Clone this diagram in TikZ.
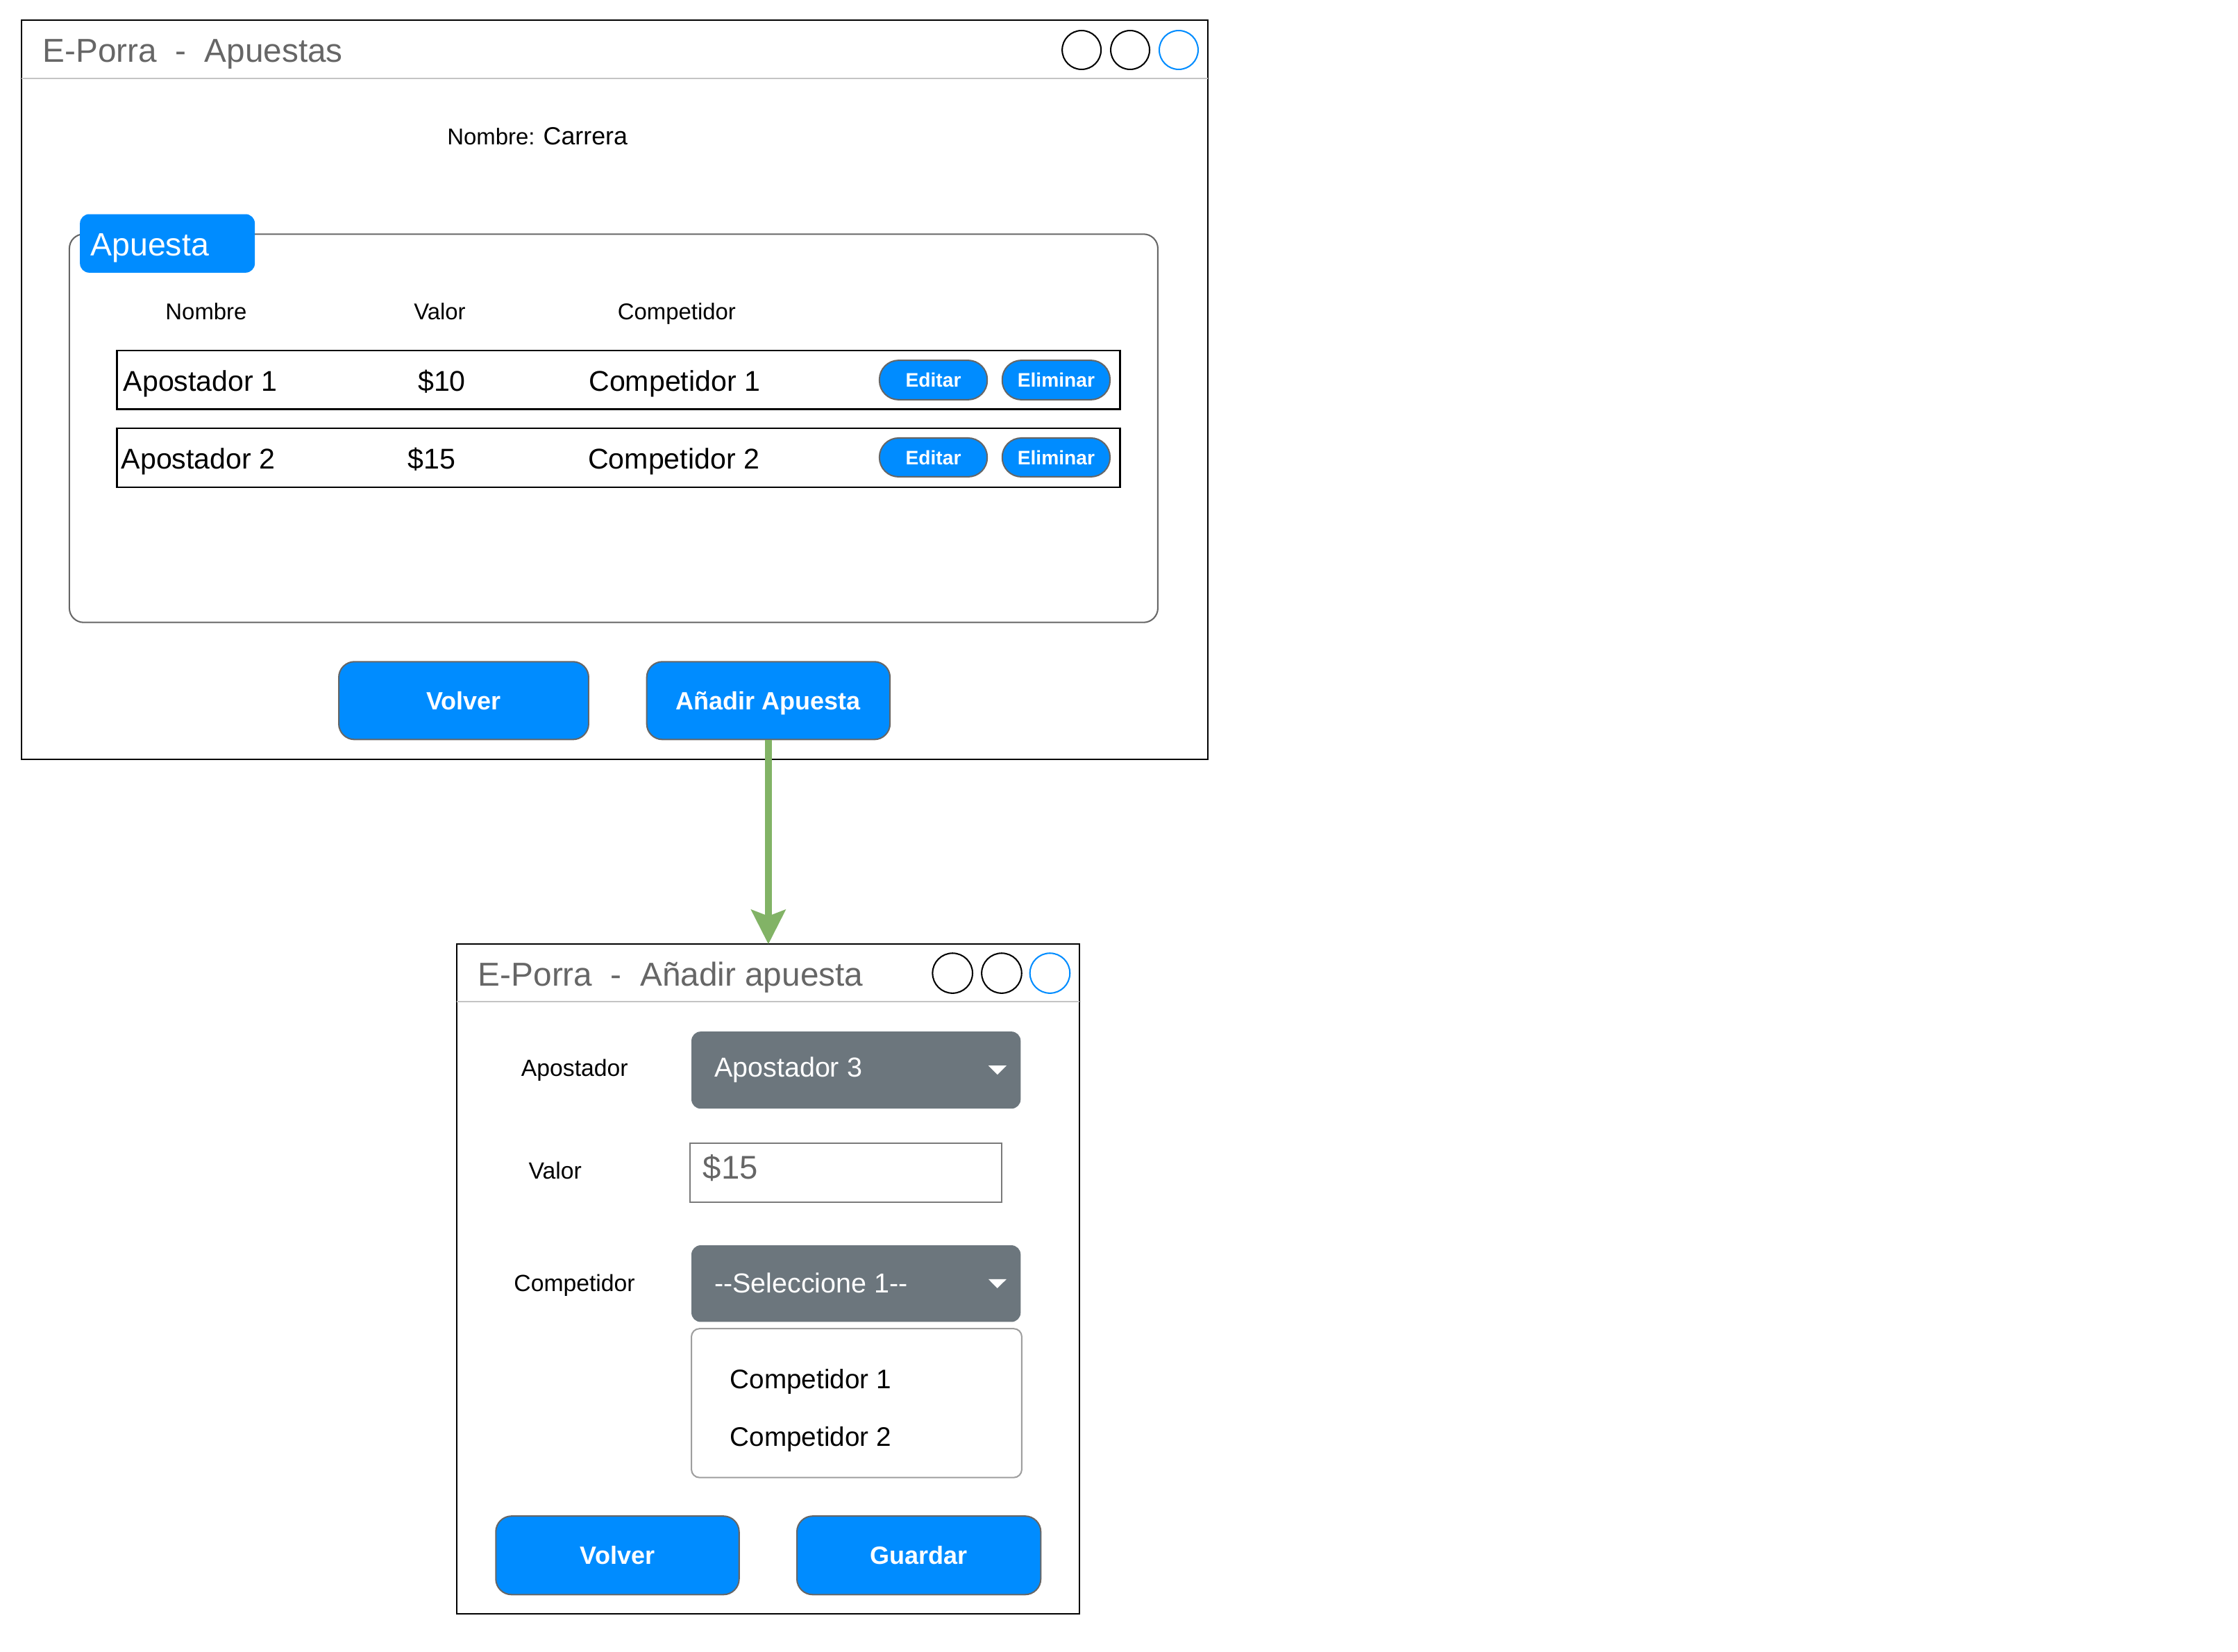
\documentclass[tikz,border=0pt]{standalone}
\usepackage{fontspec}
\setmainfont{Liberation Sans}
\usetikzlibrary{arrows.meta}
\definecolor{mblue}{HTML}{008CFF}
\definecolor{mgray}{HTML}{666666}
\definecolor{sepgray}{HTML}{C4C4C4}
\definecolor{ddgray}{HTML}{6C767D}
\definecolor{lgray}{HTML}{9E9E9E}
\definecolor{tbgray}{HTML}{7A7A7A}
\definecolor{agreen}{HTML}{82B366}
\begin{document}
\begin{tikzpicture}[x=0.5pt,y=-0.5pt,
  sz/.style 2 args={minimum width=#1*0.5pt, minimum height=#2*0.5pt},
  window/.style={draw=black, line width=0.6pt, inner sep=0pt, outer sep=0pt},
  sepline/.style={draw=sepgray, line width=0.5pt},
  wtitle/.style={anchor=base west, inner sep=0pt, text=mgray, font=\fontsize{11.6pt}{13pt}\selectfont},
  ctl/.style={draw=black, circle, line width=0.5pt, inner sep=0pt},
  ctlblue/.style={ctl, draw=mblue},
  lbl/.style={inner sep=0pt, font=\fontsize{8pt}{9.6pt}\selectfont},
  rowtxt/.style={inner sep=0pt, font=\fontsize{10pt}{12pt}\selectfont},
  groupbox/.style={draw=mgray, line width=0.5pt, rounded corners=5pt, inner sep=0pt},
  tabbox/.style={fill=mblue, rounded corners=3.25pt, inner sep=0pt},
  rowbox/.style={draw=black, line width=0.65pt, inner sep=0pt},
  sbtn/.style={draw=mgray, fill=mblue, line width=0.5pt, rounded corners=6.7pt, text=white, inner sep=0pt,
    font=\bfseries\fontsize{6.85pt}{8pt}\selectfont, text height=4.9pt, text depth=0pt},
  bbtn/.style={draw=mgray, fill=mblue, line width=0.5pt, rounded corners=5.5pt, text=white, inner sep=0pt,
    font=\bfseries\fontsize{8.75pt}{10pt}\selectfont, text height=6.3pt, text depth=0pt},
  ddbox/.style={fill=ddgray, rounded corners=3.25pt, inner sep=0pt},
  ddtxt/.style={anchor=base west, inner sep=0pt, text=white, font=\fontsize{9.6pt}{11pt}\selectfont},
  tbox/.style={draw=tbgray, line width=0.5pt, inner sep=0pt},
  listbox/.style={draw=lgray, line width=0.5pt, rounded corners=2.85pt, inner sep=0pt},
  listtxt/.style={anchor=base west, inner sep=0pt, font=\fontsize{9.4pt}{11pt}\selectfont},
  arr/.style={draw=agreen, line width=2.4pt, -{Stealth[length=12.2pt, width=12.4pt, inset=2.4pt, line width=0pt]}}
]
\useasboundingbox (0,0) rectangle (1567.6,1157.2);

% ---------------- Window 1 ----------------
\node[window, sz={831}{518}] (win1) at (430.5,273) {};
\draw[sepline] (win1.west |- 0,55) -- (win1.east |- 0,55);
\node[wtitle] (t1) at (29.5,43.3) {E-Porra\ \ -\ \ Apuestas};
\node[ctl, minimum size=13.6pt] (c11) at (757.6,35) {};
\node[ctl, minimum size=13.6pt] (c12) at (791.6,35) {};
\node[ctlblue, minimum size=13.6pt] (c13) at (825.6,35) {};

\node[anchor=base west, inner sep=0pt] (nombre) at (312.9,101.6)
  {{\fontsize{8pt}{9.6pt}\selectfont Nombre: }{\fontsize{8.7pt}{10pt}\selectfont Carrera}};

\node[groupbox, sz={762.4}{272}] (group) at (429.8,300) {};
\node[tabbox, sz={122.5}{41}] (tab) at (117.25,170.5) {};
\node[anchor=base west, inner sep=0pt, text=white, font=\fontsize{11.3pt}{13pt}\selectfont] (tabtxt) at (63,179) {Apuesta};

\node[lbl, anchor=base] (h1) at (144.4,224) {Nombre};
\node[lbl, anchor=base] (h2) at (308,224) {Valor};
\node[lbl, anchor=base] (h3) at (474,224) {Competidor};

\node[rowbox, sz={702.5}{41}] (row1) at (433.25,266) {};
\node[rowtxt, anchor=base west] (r1a) at (86,274) {Apostador 1};
\node[rowtxt, anchor=base] (r1b) at (309.5,274) {\$10};
\node[rowtxt, anchor=base] (r1c) at (472.5,274) {Competidor 1};
\node[sbtn, sz={75.5}{27.6}] (ed1) at (653.75,266.2) {Editar};
\node[sbtn, sz={75.5}{27.6}] (el1) at (739.75,266.2) {Eliminar};

\node[rowbox, sz={702.5}{41.3}] (row2) at (433.25,320.65) {};
\node[rowtxt, anchor=base west] (r2a) at (84.6,328.5) {Apostador 2};
\node[rowtxt, anchor=base] (r2b) at (302.5,328.5) {\$15};
\node[rowtxt, anchor=base] (r2c) at (472,328.5) {Competidor 2};
\node[sbtn, sz={75.5}{27.2}] (ed2) at (653.75,320.4) {Editar};
\node[sbtn, sz={75.5}{27.2}] (el2) at (739.75,320.4) {Eliminar};

\node[bbtn, sz={175}{54.5}] (volver1) at (324.8,490.75) {Volver};
\node[bbtn, sz={170.4}{54.5}] (add) at (538.2,490.75) {Añadir Apuesta};

% ---------------- Window 2 ----------------
\node[window, sz={436.1}{469.2}] (win2) at (538.05,895.9) {};
\draw[sepline] (win2.west |- 0,701.7) -- (win2.east |- 0,701.7);
\node[wtitle] (t2) at (334.6,690.5) {E-Porra\ \ -\ \ Añadir apuesta};
\node[ctl, minimum size=14pt] (c21) at (667.2,681.7) {};
\node[ctl, minimum size=14pt] (c22) at (701.6,681.7) {};
\node[ctlblue, minimum size=14pt] (c23) at (735.4,681.7) {};

\node[lbl, anchor=base west, font=\fontsize{8.2pt}{9.8pt}\selectfont] (l1) at (364.7,754) {Apostador};
\node[ddbox, sz={230.6}{54}] (dd1) at (599.6,749.6) {};
\node[ddtxt] (dd1t) at (500,754.6) {Apostador 3};
\fill[white] (692.3,746.4) -- (705,746.4) -- (698.6,752.8) -- cycle;

\node[lbl, anchor=base west, font=\fontsize{8.2pt}{9.8pt}\selectfont] (l2) at (369.9,826) {Valor};
\node[tbox, sz={218.3}{41}] (tb) at (592.45,821.5) {};
\node[anchor=base west, inner sep=0pt, text=mgray, font=\fontsize{11.5pt}{13pt}\selectfont] (tbt) at (492,826) {\$15};

\node[lbl, anchor=base west, font=\fontsize{8.2pt}{9.8pt}\selectfont] (l3) at (359.6,904.5) {Competidor};
\node[ddbox, sz={230.6}{53.7}] (dd2) at (599.6,899.15) {};
\node[ddtxt] (dd2t) at (500,905.4) {\mbox{-}\mbox{-}Seleccione 1\mbox{-}\mbox{-}};
\fill[white] (692.3,896) -- (705,896) -- (698.6,902.4) -- cycle;

\node[listbox, sz={231.4}{104.3}] (lst) at (600,982.85) {};
\node[listtxt] (o1) at (511,972.5) {Competidor 1};
\node[listtxt] (o2) at (511,1013) {Competidor 2};

\node[bbtn, sz={170.4}{55}] (volver2) at (432.5,1089.5) {Volver};
\node[bbtn, sz={170.8}{55}] (guardar) at (643.6,1089.5) {Guardar};

% ---------------- Connector ----------------
\draw[arr] (add.south) -- (add.south |- win2.north);
\end{tikzpicture}
\end{document}
